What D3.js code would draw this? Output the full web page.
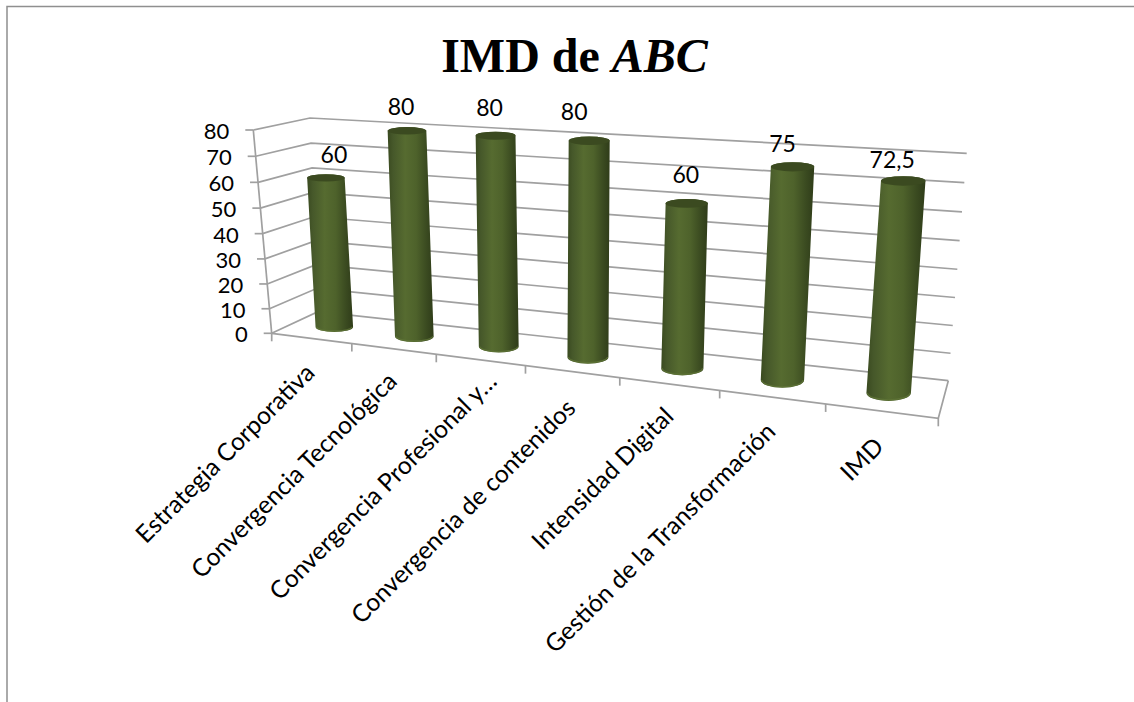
<!DOCTYPE html>
<html><head><meta charset="utf-8">
<script src="https://cdn.jsdelivr.net/npm/d3@7/dist/d3.min.js"></script>
<style>html,body{margin:0;padding:0;background:#fff}svg{display:block}</style>
</head><body><svg id="c" width="1134" height="702"></svg>
<script>
const categories = ["Estrategia Corporativa","Convergencia Tecnológica","Convergencia Profesional y…","Convergencia de contenidos","Intensidad Digital","Gestión de la Transformación","IMD"];
const values = [60,80,80,80,60,75,72.5];
const valueLabels = ["60","80","80","80","60","75","72,5"];
const valueTicks = [0,10,20,30,40,50,60,70,80];

const svg = d3.select("#c");
const GRID="#a0a0a0";
svg.append("path").attr("d","M7,702V6.5H1134").attr("fill","none").attr("stroke","#8f8f8f").attr("stroke-width",1.5);

const corners = {
  floor:{fl:[271.7,333.3],bl:[318,311.7],br:[948.3,380.7],fr:[938.3,418.3]},
  top:{fl:[253.3,130],bl:[310,118],br:[966.7,153.3],fr:[957.6,169.4]}
};
const n = categories.length;
const depthK = 1.22, heightK = 1.04;
const uScale = d3.scaleLinear().domain([-0.5,n-0.5]).range([0,1]);
const vScale = d3.scaleLinear().domain([0,80]).range([0,1]);
const persp = (t,k) => t/(t+k*(1-t));
const lerp=(a,b,t)=>[a[0]+(b[0]-a[0])*t,a[1]+(b[1]-a[1])*t];
function project(cat,depth,val){
  const f=persp(uScale(cat),depthK);
  const plane=c=>lerp(lerp(c.fl,c.fr,f),lerp(c.bl,c.br,f),depth);
  return lerp(plane(corners.floor),plane(corners.top),persp(vScale(val),heightK));
}
const line=d3.line();
const minC=-0.5,maxC=n-0.5;

const g=svg.append("g").attr("fill","none").attr("stroke",GRID).attr("stroke-width",1.7);
valueTicks.forEach(v=>{
  g.append("path").attr("d",line([project(minC,0,v),project(minC,1,v),project(maxC,1,v)]));
});
g.append("path").attr("d",line([project(minC,0,0),project(minC,0,80)]));
valueTicks.forEach(v=>{
  const p=project(minC,0,v);
  g.append("path").attr("d",line([p,[p[0]-8,p[1]]]));
});
g.append("path").attr("d",line([project(minC,0,0),project(maxC,0,0),project(maxC,1,0)]));
d3.range(n+1).forEach(i=>{
  const p=project(i-0.5,0,0);
  g.append("path").attr("d",line([p,[p[0],p[1]+8]]));
});

const defs=svg.append("defs");
const grad=defs.append("linearGradient").attr("id","cyl").attr("x1",0).attr("x2",1).attr("y1",0).attr("y2",0);
[[0,"#3a4a20"],[0.12,"#46582a"],[0.38,"#566b30"],[0.62,"#4e622b"],[0.85,"#3a4a20"],[1,"#2f3c19"]]
  .forEach(s=>grad.append("stop").attr("offset",s[0]).attr("stop-color",s[1]));

const widthScale=d3.scaleLinear().domain([0,n-1]).range([37.5,44.5]);
const ryTop=d3.scaleLinear().domain([0,n-1]).range([3.6,4.8]);
const ryBase=d3.scaleLinear().domain([0,n-1]).range([5,8]);
const labelShift=[[8,-24],[-6,-25],[-6,-29],[-15,-30],[-1,-29],[-10,-24],[-11,-22]];
const catShift=[[5,36],[5,34],[18,23],[5,38],[6,34],[5,36],[4,37]];
const barNudge=1;

const bars=svg.append("g");
values.forEach((v,i)=>{
  const b=project(i,0.5,0), t=project(i,0.5,v);
  b[0]+=barNudge; t[0]+=barNudge;
  const r=widthScale(i)/2, rt=ryTop(i), rb=ryBase(i);
  bars.append("path")
    .attr("d",`M${t[0]-r},${t[1]}L${b[0]-r},${b[1]}A${r},${rb} 0 0 0 ${b[0]+r},${b[1]}L${t[0]+r},${t[1]}A${r},${rt} 0 0 0 ${t[0]-r},${t[1]}Z`)
    .attr("fill","url(#cyl)");
  bars.append("path")
    .attr("d",`M${b[0]-r+1},${b[1]-0.2}A${r-1},${rb-0.8} 0 0 0 ${b[0]+r-1},${b[1]-0.2}`)
    .attr("fill","none").attr("stroke","#5f7437").attr("stroke-width",1.4).attr("opacity",0.8);
  bars.append("ellipse").attr("cx",t[0]).attr("cy",t[1]).attr("rx",r).attr("ry",rt).attr("fill","#3b4a20");
  svg.append("text").attr("x",t[0]+labelShift[i][0]).attr("y",t[1]+labelShift[i][1])
    .attr("text-anchor","middle").attr("dominant-baseline","central")
    .attr("font-family","Lato").attr("font-size",23).attr("fill","#000").text(valueLabels[i]);
});

valueTicks.forEach(v=>{
  const p=project(minC,0,v);
  svg.append("text").attr("x",p[0]-24).attr("y",p[1]+0.5).attr("text-anchor","end").attr("dominant-baseline","central")
   .attr("font-family","Lato").attr("font-size",22).attr("fill","#000").text(v);
});
categories.forEach((c,i)=>{
  const p=project(i,0,0);
  svg.append("text").attr("transform",`translate(${p[0]+catShift[i][0]},${p[1]+catShift[i][1]}) rotate(-45)`)
   .attr("text-anchor","end").attr("font-family","Lato").attr("font-size",24.6).attr("fill","#000").text(c);
});
const title=svg.append("text").attr("x",574.5).attr("y",72).attr("text-anchor","middle")
 .attr("font-family","Liberation Serif").attr("font-weight","bold").attr("font-size",48).attr("fill","#000");
title.append("tspan").text("IMD de ");
title.append("tspan").attr("font-style","italic").text("ABC");
</script></body></html>
